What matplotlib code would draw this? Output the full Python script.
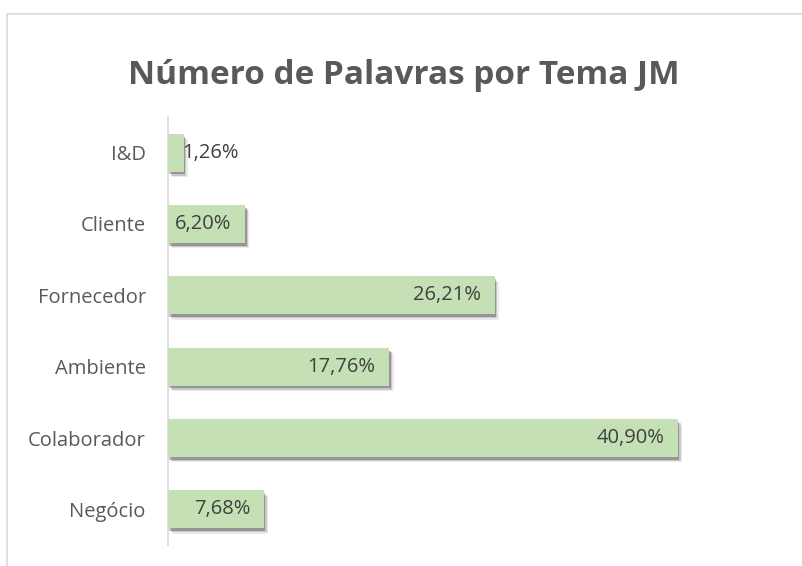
import matplotlib.pyplot as plt
import matplotlib.patheffects as pe
from matplotlib.patches import Rectangle

categories = ['I&D', 'Cliente', 'Fornecedor', 'Ambiente', 'Colaborador', 'Negócio']
values = [1.26, 6.20, 26.21, 17.76, 40.90, 7.68]
labels = ['1,26%', '6,20%', '26,21%', '17,76%', '40,90%', '7,68%']

plt.rcParams['font.family'] = ['Open Sans', 'DejaVu Sans']

fig = plt.figure(figsize=(8.03, 5.66), dpi=100)
W, H = 803, 566

# chart frame (top and left border like the Excel chart area)
fig.add_artist(Rectangle((7 / W, -0.1), 1.0, (H - 14) / H + 0.1, transform=fig.transFigure,
                         fill=False, edgecolor='#d9d9d9', linewidth=1.2))

ax = fig.add_axes([168 / W, (H - 545) / H, (795 - 168) / W, (545 - 117) / H])
ypos = list(range(len(categories)))[::-1]
bars = ax.barh(ypos, values, height=0.53, color='#c5e0b4', zorder=3)
# soft drop shadow
for b in bars:
    b.set_path_effects([pe.SimplePatchShadow(offset=(3, -4), shadow_rgbFace='#000000', alpha=0.08),
                        pe.SimplePatchShadow(offset=(2, -3), shadow_rgbFace='#000000', alpha=0.15),
                        pe.SimplePatchShadow(offset=(1, -2), shadow_rgbFace='#000000', alpha=0.25),
                        pe.Normal()])

for y, v, lab in zip(ypos, values, labels):
    if v < 3:
        ax.text(v - 0.1, y, lab, ha='left', va='center', fontsize=14.5, color='#404040', zorder=4)
    else:
        ax.text(v - 1.1, y, lab, ha='right', va='center', fontsize=14.5, color='#404040', zorder=4)

ax.set_xlim(0, 50.3)
ax.set_ylim(-0.5, len(categories) - 0.5)
ax.set_yticks(ypos)
ax.set_yticklabels(categories, fontsize=14.5, color='#595959')
ax.tick_params(axis='y', length=0, pad=16)
ax.set_xticks([])
for s in ['top', 'right', 'bottom']:
    ax.spines[s].set_visible(False)
ax.spines['left'].set_color('#d9d9d9')
ax.spines['left'].set_linewidth(1.2)

fig.text(404 / W, 1 - 75 / H, 'Número de Palavras por Tema JM', ha='center', va='center',
         fontsize=24, fontweight='bold', color='#595959')

fig.savefig('out.png', dpi=100)
